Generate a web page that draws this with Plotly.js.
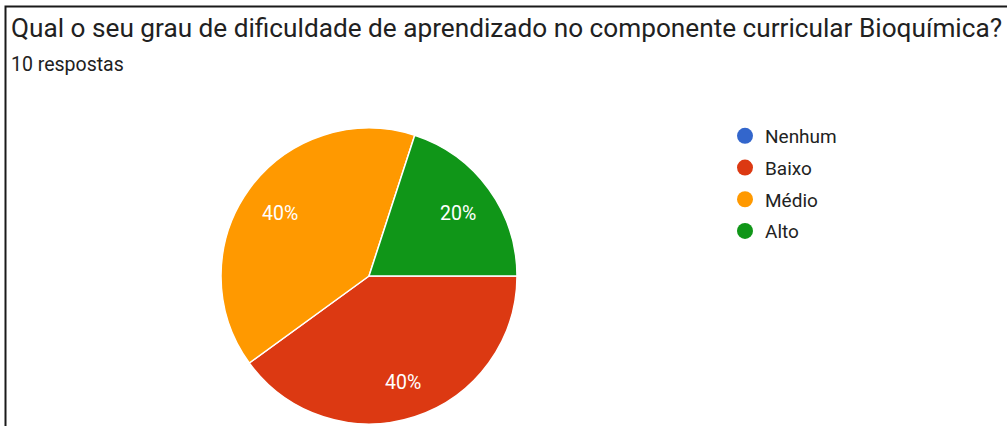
<!DOCTYPE html>
<html><head><meta charset="utf-8">
<script src="https://cdn.plot.ly/plotly-3.0.1.min.js"></script>
<style>html,body{margin:0;padding:0;background:#fff}#c{width:1007px;height:426px}</style>
</head><body><div id="c"></div>
<script>
const categories = ["Nenhum", "Baixo", "Médio", "Alto"];
const counts = [0, 4, 4, 2];
const colors = ["#3366CC", "#DC3912", "#FF9900", "#109618"];
const titleText = "Qual o seu grau de dificuldade de aprendizado no componente curricular Bioquímica?";
const subtitleText = "10 respostas";

const W = 1007, H = 426;
// pie box in pixels
const pieL = 221, pieR = 517, pieT = 128, pieB = 424;
const cx = (pieL + pieR) / 2, cy = (pieT + pieB) / 2, R = (pieR - pieL) / 2;

const traces = [{
  type: "pie",
  labels: categories,
  values: counts,
  marker: {colors: colors, line: {color: "#ffffff", width: 1.5}},
  sort: false,
  direction: "clockwise",
  rotation: 90,
  textinfo: "none",
  showlegend: false,
  hoverinfo: "label+percent",
  domain: {x: [pieL / W, pieR / W], y: [1 - pieB / H, 1 - pieT / H]}
}];
categories.forEach((c, i) => {
  traces.push({
    type: "scatter", mode: "markers", x: [null], y: [null], name: c,
    legendgroup: c,
    marker: {color: colors[i], size: 16, symbol: "circle"},
    showlegend: true, hoverinfo: "skip"
  });
});

// percentage labels placed from the data (clockwise from 3 o'clock)
const total = counts.reduce((a, b) => a + b, 0);
const labelAnns = [];
let cum = 0;
counts.forEach((v, i) => {
  const frac = v / total;
  if (v > 0) {
    const th = 2 * Math.PI * (cum + frac / 2);
    const px = cx + 0.745 * R * Math.cos(th);
    const py = cy + 0.745 * R * Math.sin(th);
    labelAnns.push({
      text: Math.round(frac * 100) + "%", xref: "paper", yref: "paper",
      x: px / W, y: 1 - py / H, xanchor: "center", yanchor: "middle",
      yshift: -2, showarrow: false, font: {size: 19.5, color: "#ffffff"}
    });
  }
  cum += frac;
});

const layout = {
  width: W, height: H,
  margin: {l: 0, r: 0, t: 0, b: 0},
  paper_bgcolor: "#ffffff", plot_bgcolor: "#ffffff",
  font: {family: "Roboto, Arial, sans-serif", color: "#212121"},
  xaxis: {visible: false}, yaxis: {visible: false},
  showlegend: true,
  legend: {
    x: 725 / W, y: 1 - 117 / H, xanchor: "left", yanchor: "top",
    font: {size: 19, color: "#222222"},
    traceorder: "grouped", tracegroupgap: 4,
    itemsizing: "trace", bgcolor: "rgba(0,0,0,0)"
  },
  annotations: [
    {text: titleText, xref: "paper", yref: "paper", x: 9 / W, y: 1 - 28 / H,
     xanchor: "left", yanchor: "middle", showarrow: false,
     font: {size: 26.2, color: "#212121"}},
    {text: subtitleText, xref: "paper", yref: "paper", x: 9 / W, y: 1 - 65 / H,
     xanchor: "left", yanchor: "middle", showarrow: false,
     font: {size: 19.5, color: "#212121"}}
  ].concat(labelAnns),
  shapes: [
    {type: "rect", xref: "paper", yref: "paper", x0: 5.5 / W, x1: 1.02, y0: -0.05, y1: 1 - 6.5 / H,
     line: {color: "#1a1a1a", width: 2}, fillcolor: "rgba(0,0,0,0)", layer: "above"}
  ]
};
Plotly.newPlot("c", traces, layout, {displayModeBar: false, staticPlot: true});
</script></body></html>
